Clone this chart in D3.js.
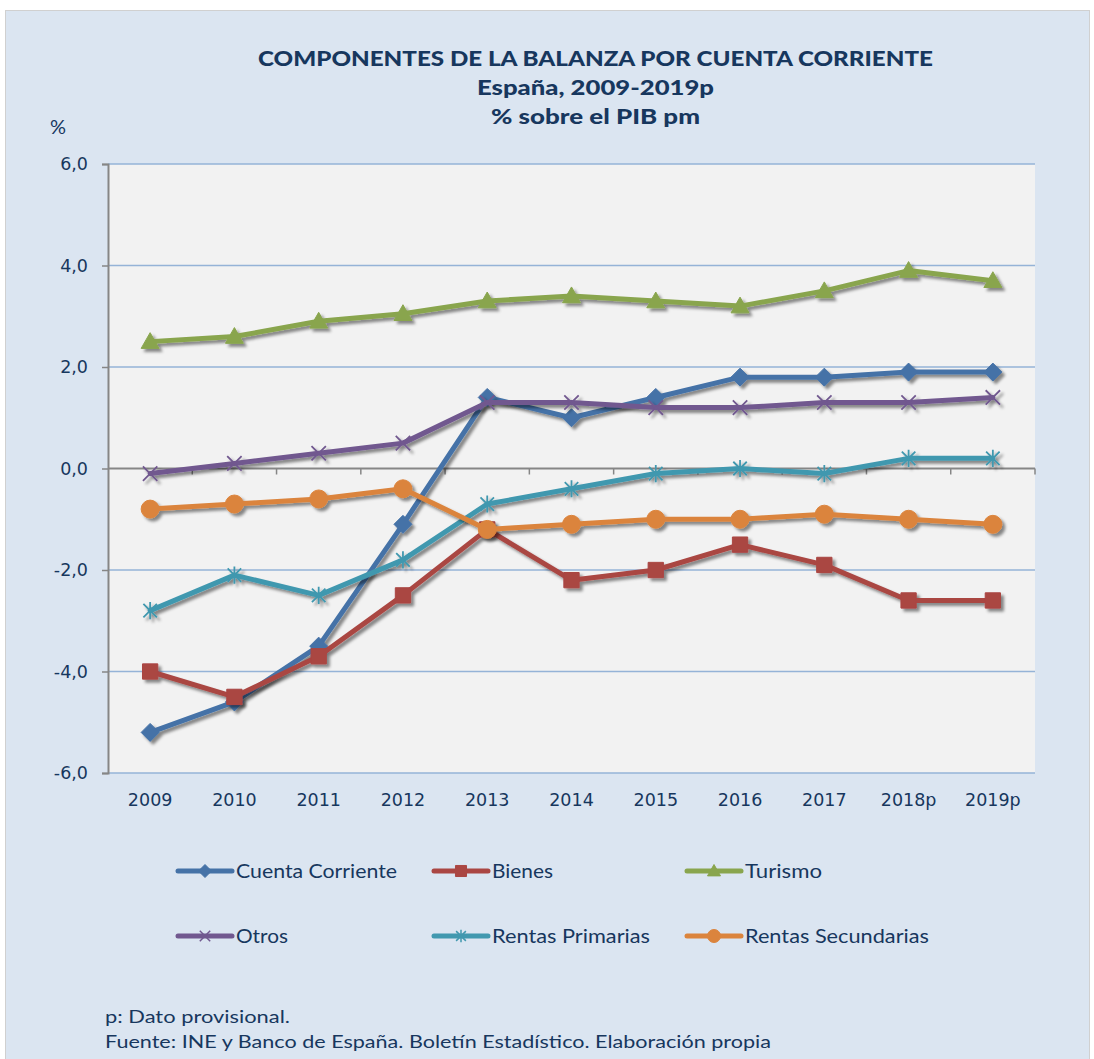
<!DOCTYPE html>
<html><head><meta charset="utf-8">
<script src="https://cdn.jsdelivr.net/npm/d3@7"></script>
<style>
html,body{margin:0;padding:0;background:#fff;}
svg{display:block;}
</style></head>
<body>
<svg id="chart" width="1094" height="1059"></svg>
<script>
const categories = ["2009","2010","2011","2012","2013","2014","2015","2016","2017","2018p","2019p"];
const cuentaCorriente = [-5.2,-4.6,-3.5,-1.1,1.4,1.0,1.4,1.8,1.8,1.9,1.9];
const bienes = [-4.0,-4.5,-3.7,-2.5,-1.2,-2.2,-2.0,-1.5,-1.9,-2.6,-2.6];
const turismo = [2.5,2.6,2.9,3.05,3.3,3.4,3.3,3.2,3.5,3.9,3.7];
const otros = [-0.1,0.1,0.3,0.5,1.3,1.3,1.2,1.2,1.3,1.3,1.4];
const rentasPrimarias = [-2.8,-2.1,-2.5,-1.8,-0.7,-0.4,-0.1,0.0,-0.1,0.2,0.2];
const rentasSecundarias = [-0.8,-0.7,-0.6,-0.4,-1.2,-1.1,-1.0,-1.0,-0.9,-1.0,-1.1];
const seriesNames = ["Cuenta Corriente","Bienes","Turismo","Otros","Rentas Primarias","Rentas Secundarias"];
const yTicks = [-6,-4,-2,0,2,4,6];
const titleLines = ["COMPONENTES DE LA BALANZA POR CUENTA CORRIENTE","España, 2009-2019p","% sobre el PIB pm"];
const footLines = ["p: Dato provisional.","Fuente: INE y Banco de España. Boletín Estadístico. Elaboración propia"];

const series = [
  {name: seriesNames[0], values: cuentaCorriente, color:"#4572a7", marker:"diamond"},
  {name: seriesNames[1], values: bienes, color:"#aa4643", marker:"square"},
  {name: seriesNames[2], values: turismo, color:"#89a54e", marker:"triangle"},
  {name: seriesNames[3], values: otros, color:"#71588f", marker:"x"},
  {name: seriesNames[4], values: rentasPrimarias, color:"#4198af", marker:"asterisk"},
  {name: seriesNames[5], values: rentasSecundarias, color:"#db843d", marker:"circle"}
];

const textColor = "#17375e";
const narrow = "Lato, 'Open Sans', sans-serif";
const wide = "'DejaVu Sans', Verdana, sans-serif";

const svg = d3.select("#chart");
const defs = svg.append("defs");
const f = defs.append("filter").attr("id","shadow").attr("x","-20%").attr("y","-20%").attr("width","140%").attr("height","140%");
f.append("feDropShadow").attr("dx",3).attr("dy",3).attr("stdDeviation",1.8).attr("flood-color","#000").attr("flood-opacity",0.45);

// background
svg.append("rect").attr("x",5.5).attr("y",10.5).attr("width",1084).attr("height",1060)
  .attr("fill","#dbe5f1").attr("stroke","#d0d0d0").attr("stroke-width",1);

const L=108, R=1035, T=164, B=773;
const x = d3.scaleBand().domain(categories).range([L,R]);
const y = d3.scaleLinear().domain([-6,6]).range([B,T]);
const cx = c => x(c) + x.bandwidth()/2;

// plot area
svg.append("rect").attr("x",L).attr("y",T).attr("width",R-L).attr("height",B-T).attr("fill","#f2f2f2");

// gridlines
svg.append("g").selectAll("line").data(yTicks.filter(d=>d!==0)).join("line")
  .attr("x1",L).attr("x2",R).attr("y1",d=>y(d)).attr("y2",d=>y(d))
  .attr("stroke","#95b3d7").attr("stroke-width",1.5);

// y axis
const yAxis = svg.append("g").attr("transform",`translate(${L},0)`)
  .call(d3.axisLeft(y).tickValues(yTicks).tickSize(6).tickPadding(14)
    .tickFormat(d=>d.toFixed(1).replace(".",",")));
yAxis.select(".domain").attr("stroke","#868686").attr("stroke-width",2);
yAxis.selectAll(".tick line").attr("stroke","#868686").attr("stroke-width",1.5);
yAxis.selectAll(".tick text").attr("fill",textColor).attr("font-family",wide).attr("font-size",17.5);

// zero axis line with ticks at category boundaries
const zg = svg.append("g");
zg.append("line").attr("x1",L).attr("x2",R).attr("y1",y(0)).attr("y2",y(0)).attr("stroke","#868686").attr("stroke-width",2);
const bounds = categories.map(c=>x(c)).concat([x(categories[categories.length-1])+x.bandwidth()]);
zg.selectAll("line.tk").data(bounds.slice(1)).join("line").attr("class","tk")
  .attr("x1",d=>d).attr("x2",d=>d).attr("y1",y(0)).attr("y2",y(0)+6)
  .attr("stroke","#868686").attr("stroke-width",1.5);

// x labels
const xAxis = svg.append("g").attr("transform",`translate(0,${B})`)
  .call(d3.axisBottom(x).tickSize(0).tickPadding(21));
xAxis.select(".domain").remove();
xAxis.selectAll(".tick text").attr("fill",textColor).attr("font-family",wide).attr("font-size",17.5);

// markers
function markerPath(type, s){
  const r = s;
  switch(type){
    case "diamond": return `M0,${-r}L${r},0L0,${r}L${-r},0Z`;
    case "square": return `M${-r*0.85},${-r*0.85}H${r*0.85}V${r*0.85}H${-r*0.85}Z`;
    case "triangle": return `M0,${-r}L${r},${r*0.75}L${-r},${r*0.75}Z`;
    case "circle": return `M${r},0A${r},${r} 0 1,1 ${-r},0A${r},${r} 0 1,1 ${r},0Z`;
    case "x": { const a=r*0.8; return `M${-a},${-a}L${a},${a}M${a},${-a}L${-a},${a}`; }
    case "asterisk": { const a=r*0.75; return `M${-a},${-a}L${a},${a}M${a},${-a}L${-a},${a}M0,${-r*0.95}L0,${r*0.95}`; }
  }
}
const isStroke = t => t==="x"||t==="asterisk";

const line = d3.line().x((d,i)=>cx(categories[i])).y(d=>y(d));
series.forEach(s=>{
  const g = svg.append("g").attr("filter","url(#shadow)");
  g.append("path").attr("d",line(s.values)).attr("fill","none").attr("stroke",s.color)
    .attr("stroke-width",5).attr("stroke-linejoin","round").attr("stroke-linecap","round");
  g.selectAll("path.m").data(s.values).join("path").attr("class","m")
    .attr("transform",(d,i)=>`translate(${cx(categories[i])},${y(d)})`)
    .attr("d",markerPath(s.marker, 9))
    .attr("fill",isStroke(s.marker)?"none":s.color)
    .attr("stroke",s.color).attr("stroke-width",isStroke(s.marker)?1.8:1);
});

function fitText(sel, w){ sel.attr("textLength",w).attr("lengthAdjust","spacingAndGlyphs"); }

// title
const tcx = 595.5;
const tAttrs = [{y:66,w:675},{y:95,w:237},{y:124,w:209}];
titleLines.forEach((t,i)=>{
  svg.append("text").attr("x",tcx).attr("y",tAttrs[i].y).attr("text-anchor","middle")
    .attr("font-family",narrow).attr("font-weight","900").attr("font-size",21).attr("fill",textColor)
    .text(t).call(fitText,tAttrs[i].w);
});
svg.append("text").attr("x",50).attr("y",134).attr("font-family",narrow).attr("font-size",20).attr("fill",textColor).text("%").call(fitText,16);

// legend
const legPos = [{x:178,y:871,w:161},{x:434,y:871,w:61},{x:687,y:871,w:77},{x:178,y:936,w:52},{x:434,y:936,w:158},{x:687,y:936,w:184}];
series.forEach((s,i)=>{
  const p = legPos[i];
  const g = svg.append("g").attr("transform",`translate(${p.x},${p.y})`);
  g.append("line").attr("x1",0).attr("x2",54).attr("y1",0).attr("y2",0).attr("stroke",s.color).attr("stroke-width",5).attr("stroke-linecap","round");
  g.append("path").attr("transform","translate(27,0)").attr("d",markerPath(s.marker,6.5))
    .attr("fill",isStroke(s.marker)?"none":s.color).attr("stroke",s.color).attr("stroke-width",isStroke(s.marker)?1.5:1);
  g.append("text").attr("x",58).attr("y",6.5).attr("font-family",narrow).attr("font-size",18.5).attr("fill",textColor)
    .text(s.name).call(fitText,p.w);
});

// footer
svg.append("text").attr("x",105).attr("y",1023).attr("font-family",narrow).attr("font-size",17.5).attr("fill",textColor).text(footLines[0]).call(fitText,185);
svg.append("text").attr("x",105).attr("y",1048).attr("font-family",narrow).attr("font-size",17.5).attr("fill",textColor).text(footLines[1]).call(fitText,666);
</script>
</body></html>
